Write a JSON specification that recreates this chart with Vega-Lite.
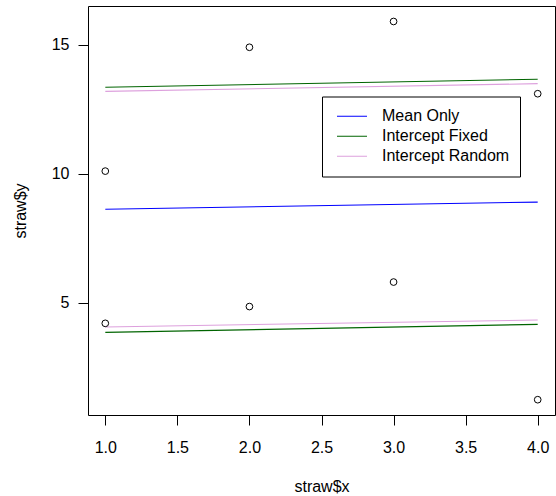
{
  "$schema": "https://vega.github.io/schema/vega-lite/v6.json",
  "width": 467,
  "height": 409,
  "autosize": "none",
  "padding": {"left": 88, "top": 6, "right": 1, "bottom": 81},
  "background": "white",
  "config": {
    "view": {"stroke": "black", "strokeWidth": 1},
    "font": "Liberation Sans",
    "axis": {
      "domain": false,
      "grid": false,
      "tickColor": "black",
      "tickSize": 10,
      "labelFontSize": 16,
      "labelColor": "black",
      "titleFontSize": 16,
      "titleFontWeight": "normal",
      "titleColor": "black"
    }
  },
  "datasets": {
    "pts": [
      {"x": 1, "y": 10.1},
      {"x": 1, "y": 4.2},
      {"x": 2, "y": 14.9},
      {"x": 2, "y": 4.85},
      {"x": 3, "y": 15.9},
      {"x": 3, "y": 5.8},
      {"x": 4, "y": 13.1},
      {"x": 4, "y": 1.24}
    ],
    "lines": [
      {"model": "Mean Only", "grp": "m", "x": 1, "y": 8.62},
      {"model": "Mean Only", "grp": "m", "x": 4, "y": 8.9},
      {"model": "Intercept Fixed", "grp": "f1", "x": 1, "y": 13.35},
      {"model": "Intercept Fixed", "grp": "f1", "x": 4, "y": 13.66},
      {"model": "Intercept Fixed", "grp": "f2", "x": 1, "y": 3.85},
      {"model": "Intercept Fixed", "grp": "f2", "x": 4, "y": 4.16},
      {"model": "Intercept Random", "grp": "r1", "x": 1, "y": 13.19},
      {"model": "Intercept Random", "grp": "r1", "x": 4, "y": 13.49},
      {"model": "Intercept Random", "grp": "r2", "x": 1, "y": 4.06},
      {"model": "Intercept Random", "grp": "r2", "x": 4, "y": 4.33}
    ]
  },
  "layer": [
    {
      "data": {"name": "lines"},
      "mark": {"type": "line", "strokeWidth": 1.1, "clip": true},
      "encoding": {
        "x": {
          "field": "x", "type": "quantitative",
          "scale": {"domain": [0.88, 4.12], "nice": false, "zero": false},
          "axis": {"values": [1, 1.5, 2, 2.5, 3, 3.5, 4], "format": ".1f", "title": "straw$x", "labelPadding": 14, "titlePadding": 23}
        },
        "y": {
          "field": "y", "type": "quantitative",
          "scale": {"domain": [0.647, 16.5], "nice": false, "zero": false},
          "axis": {"values": [5, 10, 15], "title": "straw$y", "labelPadding": 9, "titlePadding": 23}
        },
        "color": {
          "field": "model", "type": "nominal",
          "scale": {"domain": ["Mean Only", "Intercept Fixed", "Intercept Random"], "range": ["#0000FF", "#006400", "#DDA0DD"]},
          "legend": {
            "title": null,
            "orient": "none",
            "legendX": 234,
            "legendY": 90.5,
            "symbolType": "stroke",
            "symbolSize": 900,
            "symbolStrokeWidth": 1.2,
            "symbolOffset": 4,
            "clipHeight": 19.5,
            "labelFontSize": 16,
            "labelColor": "black",
            "labelOffset": 14,
            "rowPadding": 0,
            "padding": 10,
            "strokeColor": "black",
            "fillColor": "white"
          }
        },
        "detail": {"field": "grp"}
      }
    },
    {
      "data": {"name": "pts"},
      "mark": {"type": "point", "shape": "circle", "filled": false, "color": "black", "size": 45, "strokeWidth": 1, "opacity": 1},
      "encoding": {
        "x": {"field": "x", "type": "quantitative"},
        "y": {"field": "y", "type": "quantitative"}
      }
    }
  ]
}
